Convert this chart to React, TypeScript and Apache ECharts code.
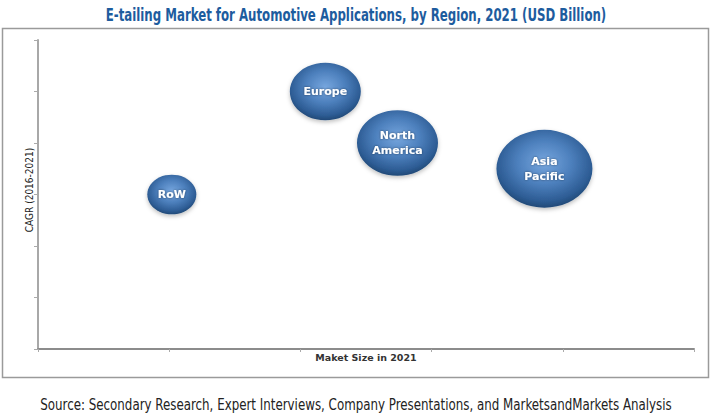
import React, { useEffect, useRef } from "react";
import * as echarts from "echarts";

const regions = ["RoW", "Europe", "North\nAmerica", "Asia\nPacific"];
const marketSize = [1.02, 2.19, 2.74, 3.86];
const cagr = [3.0, 5.0, 4.0, 3.5];
const bubbleSize = [49, 71, 81, 96];

const xTicks = [0, 1, 2, 3, 4, 5];
const yTicks = [0, 1, 2, 3, 4, 5, 6];

const titleText = "E-tailing Market for Automotive Applications, by Region, 2021 (USD Billion)";
const xName = "Maket Size in 2021";
const yName = "CAGR (2016-2021)";
const sourceText = "Source: Secondary Research, Expert Interviews, Company Presentations, and MarketsandMarkets Analysis";

const condensed = "'DejaVu Sans Condensed', 'DejaVu Sans', sans-serif";

export default function App() {
  const ref = useRef<HTMLDivElement>(null);
  useEffect(() => {
    if (!ref.current) return;
    const chart = echarts.init(ref.current, undefined, { renderer: "svg" });
    const bubbleGrad = new echarts.graphic.RadialGradient(0.5, 0.42, 0.62, [
      { offset: 0, color: "#76a6de" },
      { offset: 0.45, color: "#4d80bd" },
      { offset: 0.8, color: "#2d5c94" },
      { offset: 0.93, color: "#224a78" },
      { offset: 1, color: "#3d6696" },
    ]);
    const option = {
      animation: false,
      backgroundColor: "#ffffff",
      graphic: [
        {
          type: "text",
          x: 356,
          y: 15,
          scaleX: 0.77,
          style: {
            text: titleText,
            fontFamily: condensed,
            fontWeight: "bold",
            fontSize: 17,
            fill: "#1d5c9e",
            textAlign: "center",
            textVerticalAlign: "middle",
          },
        },
        {
          type: "rect",
          shape: { x: 2.5, y: 28.5, width: 706, height: 349 },
          style: { fill: "none", stroke: "#9a9a9a", lineWidth: 1.5 },
          z: -1,
        },
        {
          type: "text",
          x: 29,
          y: 190,
          rotation: Math.PI / 2,
          style: {
            text: yName,
            fontFamily: condensed,
            fontSize: 10,
            fill: "#222222",
            textAlign: "center",
            textVerticalAlign: "middle",
          },
        },
        {
          type: "text",
          x: 356,
          y: 405,
          scaleX: 0.88,
          style: {
            text: sourceText,
            fontFamily: condensed,
            fontSize: 15,
            fill: "#222222",
            textAlign: "center",
            textVerticalAlign: "middle",
          },
        },
      ],
      grid: { left: 38, right: 18, top: 40, bottom: 71 },
      xAxis: {
        type: "value",
        min: xTicks[0],
        max: xTicks[xTicks.length - 1],
        interval: 1,
        name: xName,
        nameLocation: "middle",
        nameGap: 3,
        nameTextStyle: {
          fontFamily: "'DejaVu Sans', sans-serif",
          fontWeight: "bold",
          fontSize: 9.5,
          color: "#333333",
          verticalAlign: "top",
        },
        axisLine: { show: true, lineStyle: { color: "#8c8c8c", width: 2 } },
        axisTick: { show: true, length: 3, lineStyle: { color: "#aaaaaa", width: 1 } },
        axisLabel: { show: false },
        splitLine: { show: false },
      },
      yAxis: {
        type: "value",
        min: yTicks[0],
        max: yTicks[yTicks.length - 1],
        interval: 1,
        axisLine: { show: true, lineStyle: { color: "#a8a8a8", width: 2 } },
        axisTick: { show: true, length: 4, lineStyle: { color: "#aaaaaa", width: 1 } },
        axisLabel: { show: false },
        splitLine: { show: false },
      },
      series: [
        {
          type: "scatter",
          data: regions.map((r, i) => ({
            name: r,
            value: [marketSize[i], cagr[i], bubbleSize[i]],
          })),
          symbol: "circle",
          symbolSize: (v: number[]) => [v[2], v[2] * 0.81],
          itemStyle: {
            color: bubbleGrad,
            opacity: 1,
            shadowBlur: 4,
            shadowColor: "rgba(0,0,0,0.25)",
            shadowOffsetY: 2,
          },
          label: {
            show: true,
            position: "inside",
            formatter: (p: any) => p.name,
            color: "#ffffff",
            fontFamily: "'DejaVu Sans', Verdana, sans-serif",
            fontWeight: "bold",
            fontSize: 11,
            lineHeight: 15,
            textShadowColor: "rgba(0,0,0,0.5)",
            textShadowBlur: 2,
          },
        },
      ],
    };
    chart.setOption(option as any);
    return () => chart.dispose();
  }, []);
  return <div ref={ref} style={{ width: 712, height: 420, position: "absolute", left: 0, top: 0 }} />;
}
